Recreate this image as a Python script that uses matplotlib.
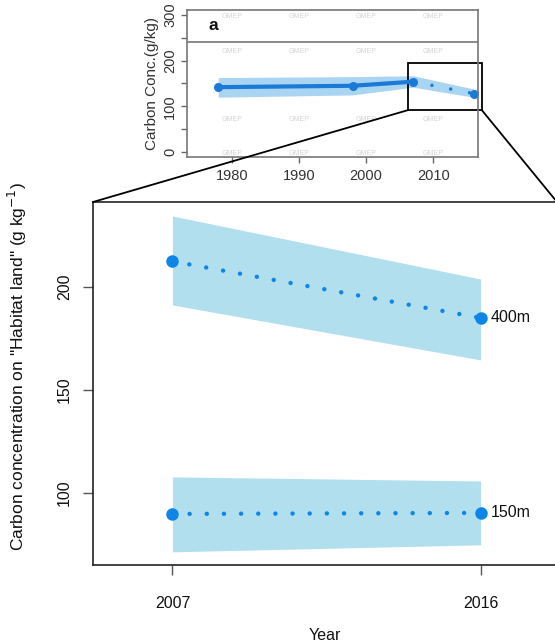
import matplotlib
matplotlib.use("Agg")
import matplotlib.pyplot as plt
from matplotlib.patches import Rectangle, ConnectionPatch
import numpy as np

plt.rcParams['font.family'] = ['Liberation Sans', 'DejaVu Sans']

# ---- main panel data ----
years_main = [2007, 2016]
c400 = [212.5, 185.0]
c400_lo = [191.3, 164.6]
c400_hi = [234.5, 203.9]
c150 = [89.8, 90.3]
c150_lo = [71.4, 74.8]
c150_hi = [107.8, 105.8]
series_labels = ["400m", "150m"]

# ---- inset data ----
years_inset = [1978, 1998, 2007, 2016]
inset_val = [142, 145, 154, 128]
inset_lo = [120, 125, 142, 120]
inset_hi = [163, 165, 167, 138]
inset_xticks = [1980, 1990, 2000, 2010]
inset_yticks = [0, 50, 100, 150, 200, 250, 300]
inset_ylabels = ["0", "", "100", "", "200", "", "300"]
wm_x = [1980, 1990, 2000, 2010]
wm_y = [296, 221, 71, -3]

band_c = "#b1dfee"
dot_c = "#0d86e8"

fig = plt.figure(figsize=(5.55, 6.44), dpi=100)

# main axes
ax = fig.add_axes([93/555, 1-565/644, 464/555, (565-202)/644])
ax.fill_between(years_main, c400_lo, c400_hi, color=band_c, lw=0)
ax.fill_between(years_main, c150_lo, c150_hi, color=band_c, lw=0)
for vals in (c400, c150):
    ax.plot(years_main, vals, color=dot_c, lw=3.2,
            linestyle=(0, (0.01, 3.85)), dash_capstyle='round')
    ax.plot(years_main, vals, 'o', color=dot_c, ms=9, mec='none')
ax.text(2016.3, c400[1], series_labels[0], va='center', ha='left', fontsize=11.5, color='#111')
ax.text(2016.3, c150[1], series_labels[1], va='center', ha='left', fontsize=11.5, color='#111')
ax.set_xlim(2004.68, 2018.23)
ax.set_ylim(65, 241.3)
ax.set_xticks(years_main)
ax.set_yticks([100, 150, 200])
ax.tick_params(axis='both', length=7, width=1, color='#555', labelsize=11.5, labelcolor='#111')
ax.tick_params(axis='y', pad=8)
ax.tick_params(axis='x', pad=15)
for lab in ax.get_yticklabels():
    lab.set_rotation(90)
    lab.set_va('center')
for s in ax.spines.values():
    s.set_color('#222')
    s.set_linewidth(1.2)
ax.set_xlabel("Year", fontsize=11.5, color='#111')
ax.xaxis.set_label_coords(0.5, -(635 - 565) / 363, transform=ax.transAxes)
ax.xaxis.label.set_va('center')
ax.set_ylabel('Carbon concentration on "Habitat land" (g kg$^{-1}$)', fontsize=12.5, color='#111')
ax.yaxis.set_label_coords((17 - 93) / 464, (565 - 367) / 363, transform=ax.transAxes)
ax.yaxis.label.set_va('center')

# inset axes
ai = fig.add_axes([187/555, 1-157/644, (478-187)/555, (157-10)/644])
ai.set_xlim(1973.35, 2016.65)
ai.set_ylim(-11, 311)
for xx in wm_x:
    for yy in wm_y:
        ai.text(xx, yy, "GMEP", fontsize=5, color='#d4d4d4', ha='center', va='center')
ai.fill_between(years_inset, inset_lo, inset_hi, color='#a9d5f2', lw=0)
ai.plot(years_inset[:3], inset_val[:3], color='#1a7ad6', lw=3)
ai.plot(years_inset[2:], inset_val[2:], color='#1a7ad6', lw=2.5,
        linestyle=(0, (0.01, 5.5)), dash_capstyle='round')
ai.plot(years_inset, inset_val, 'o', color='#1a7ad6', ms=6.5, mec='none')
ai.axhline(241, color='#777', lw=1.2)
ai.text(1976.5, 276, "a", fontsize=12.5, fontweight='bold', ha='left', va='center', color='#111')
ai.set_xticks(inset_xticks)
ai.set_yticks(inset_yticks)
ai.set_yticklabels(inset_ylabels)
ai.tick_params(axis='both', length=4, width=1, color='#666', labelsize=10.5, labelcolor='#333')
ai.tick_params(axis='x', pad=5)
ai.tick_params(axis='y', pad=3)
for lab in ai.get_yticklabels():
    lab.set_rotation(90)
    lab.set_va('center')
for s in ai.spines.values():
    s.set_color('#777')
    s.set_linewidth(1.2)
ai.set_ylabel("Carbon Conc.(g/kg)", fontsize=11, labelpad=3, color='#333')

# zoom box
zx0, zx1, zy0, zy1 = 2006.3, 2017.2, 92, 195
rect = Rectangle((zx0, zy0), zx1 - zx0, zy1 - zy0, fill=False, ec='black', lw=1.3, clip_on=False)
ai.add_patch(rect)
for (xa, xb) in ((zx0, 0.0), (zx1, 1.0)):
    cp = ConnectionPatch(xyA=(xa, zy0), coordsA=ai.transData,
                         xyB=(xb, 1.0), coordsB=ax.transAxes,
                         color='black', lw=1.3)
    fig.add_artist(cp)

fig.savefig("out.png", dpi=100)
